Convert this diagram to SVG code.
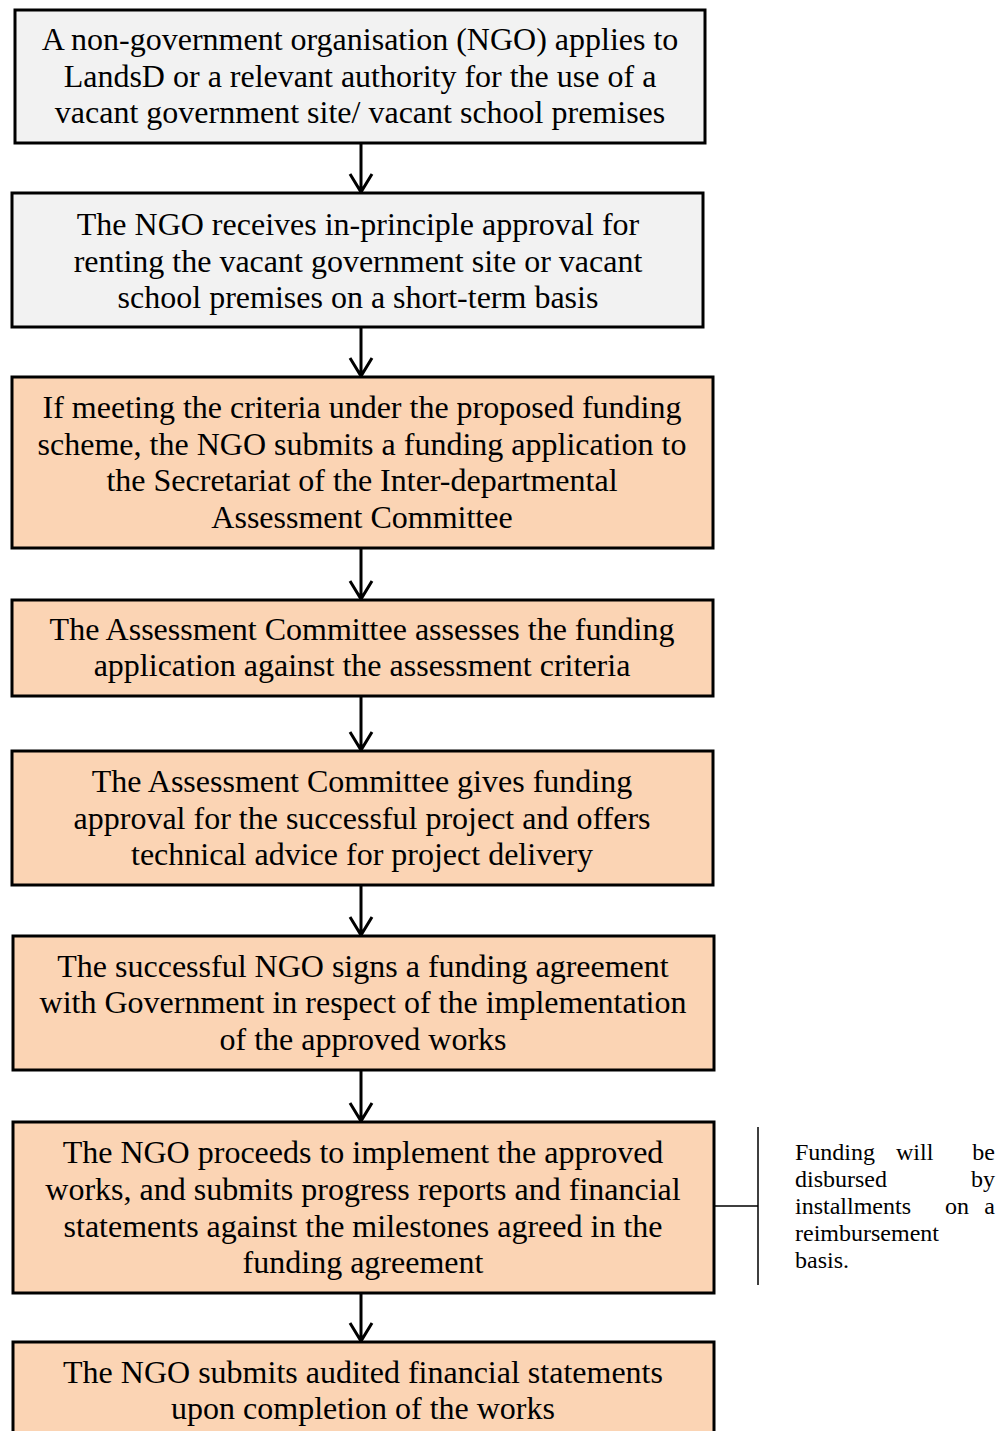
<svg xmlns="http://www.w3.org/2000/svg" width="1007" height="1431" viewBox="0 0 1007 1431">
<style>
.box{stroke:#000;stroke-width:3}
.g{fill:#f2f2f2}
.o{fill:#fbd4b4}
.t{font-family:"Liberation Serif","Times New Roman",serif;font-size:32px;fill:#000;text-anchor:middle}
.n{font-family:"Liberation Serif","Times New Roman",serif;font-size:24px;fill:#000}
.c{stroke:#000;stroke-width:3;fill:none}
.thin{stroke:#000;stroke-width:1.5;fill:none}
</style>
<rect width="1007" height="1431" fill="#fff"/>
<g id="connectors">
<g class="c">
<path d="M361 143V192M350 174L361 192L372 174"/>
<path d="M361 327V376M350 358L361 376L372 358"/>
<path d="M361 548V599M350 581L361 599L372 581"/>
<path d="M361 696V750M350 732L361 750L372 732"/>
<path d="M361 885V935M350 917L361 935L372 917"/>
<path d="M361 1070V1121M350 1103L361 1121L372 1103"/>
<path d="M361 1293V1341M350 1323L361 1341L372 1323"/>
</g>
<path class="thin" d="M714 1206H758M758 1127V1285"/>
</g>
<g id="n1">
<rect class="box g" x="15" y="10" width="690" height="133"/>
<text class="t"><tspan x="360" y="50">A non-government organisation (NGO) applies to</tspan><tspan x="360" y="87">LandsD or a relevant authority for the use of a</tspan><tspan x="360" y="123">vacant government site/ vacant school premises</tspan></text>
</g>
<g id="n2">
<rect class="box g" x="12" y="193" width="691" height="134"/>
<text class="t"><tspan x="358" y="235">The NGO receives in-principle approval for</tspan><tspan x="358" y="272">renting the vacant government site or vacant</tspan><tspan x="358" y="308">school premises on a short-term basis</tspan></text>
</g>
<g id="n3">
<rect class="box o" x="12" y="377" width="701" height="171"/>
<text class="t"><tspan x="362" y="418">If meeting the criteria under the proposed funding</tspan><tspan x="362" y="455">scheme, the NGO submits a funding application to</tspan><tspan x="362" y="491">the Secretariat of the Inter-departmental</tspan><tspan x="362" y="528">Assessment Committee</tspan></text>
</g>
<g id="n4">
<rect class="box o" x="12" y="600" width="701" height="96"/>
<text class="t"><tspan x="362" y="640">The Assessment Committee assesses the funding</tspan><tspan x="362" y="676">application against the assessment criteria</tspan></text>
</g>
<g id="n5">
<rect class="box o" x="12" y="751" width="701" height="134"/>
<text class="t"><tspan x="362" y="792">The Assessment Committee gives funding</tspan><tspan x="362" y="829">approval for the successful project and offers</tspan><tspan x="362" y="865">technical advice for project delivery</tspan></text>
</g>
<g id="n6">
<rect class="box o" x="13" y="936" width="701" height="134"/>
<text class="t"><tspan x="363" y="977">The successful NGO signs a funding agreement</tspan><tspan x="363" y="1013">with Government in respect of the implementation</tspan><tspan x="363" y="1050">of the approved works</tspan></text>
</g>
<g id="n7">
<rect class="box o" x="13" y="1122" width="701" height="171"/>
<text class="t"><tspan x="363" y="1163">The NGO proceeds to implement the approved</tspan><tspan x="363" y="1200">works, and submits progress reports and financial</tspan><tspan x="363" y="1237">statements against the milestones agreed in the</tspan><tspan x="363" y="1273">funding agreement</tspan></text>
</g>
<g id="n8">
<rect class="box o" x="13" y="1342" width="701" height="100"/>
<text class="t"><tspan x="363" y="1383">The NGO submits audited financial statements</tspan><tspan x="363" y="1419">upon completion of the works</tspan></text>
</g>
<g id="note">
<text class="n"><tspan x="795" y="1160">Funding</tspan><tspan x="896" y="1160">will</tspan><tspan x="995" y="1160" text-anchor="end">be</tspan><tspan x="795" y="1187">disbursed</tspan><tspan x="995" y="1187" text-anchor="end">by</tspan><tspan x="795" y="1214">installments</tspan><tspan x="945" y="1214">on</tspan><tspan x="995" y="1214" text-anchor="end">a</tspan><tspan x="795" y="1241">reimbursement</tspan><tspan x="795" y="1268">basis.</tspan></text>
</g>
</svg>
